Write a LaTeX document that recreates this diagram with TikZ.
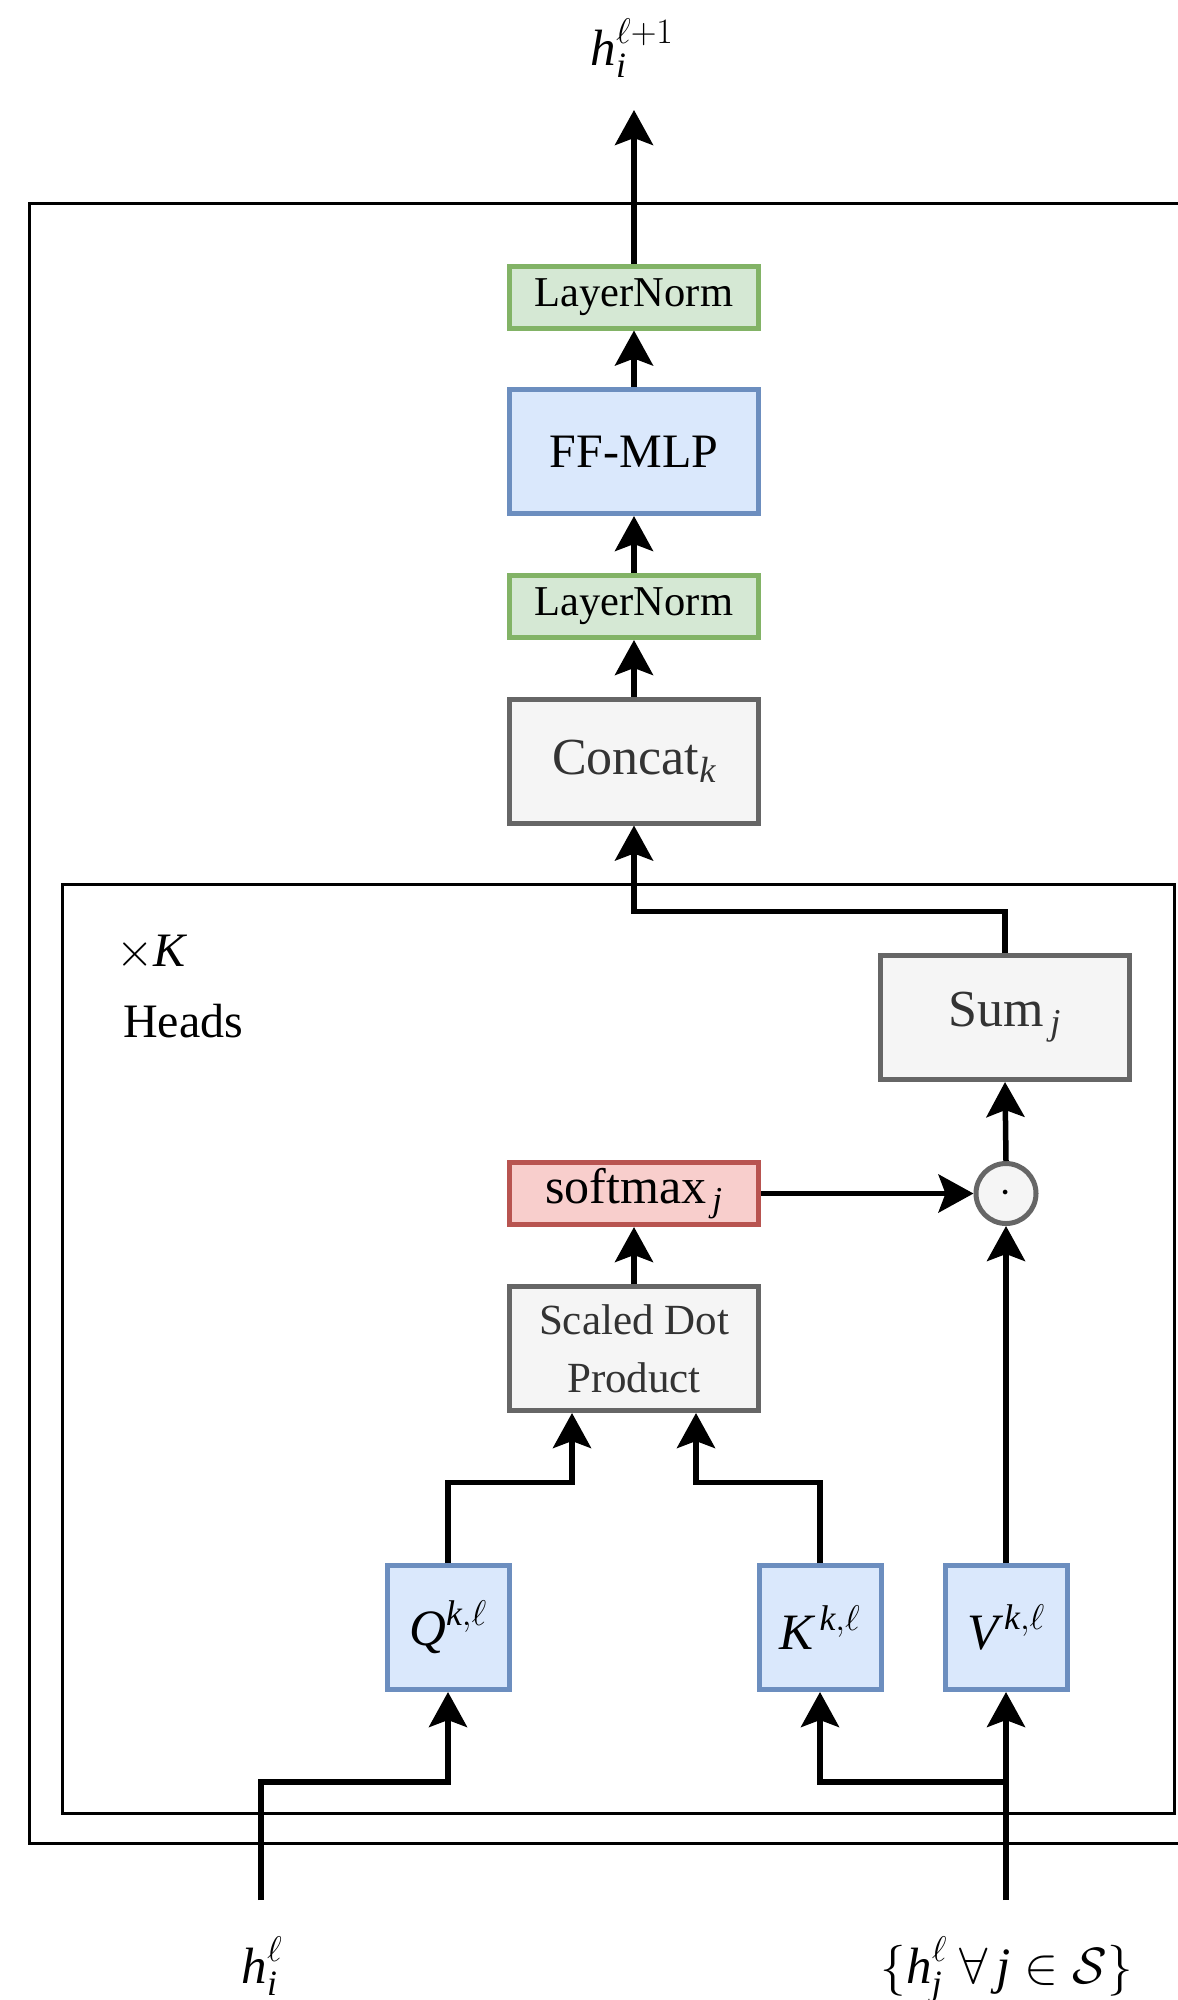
\RequirePackage{fix-cm}
\documentclass[tikz,border=0pt]{standalone}
\usepackage{amsmath}
\usepackage{fontspec}
\setmainfont{Liberation Serif}
\usetikzlibrary{arrows.meta}
\definecolor{gfill}{HTML}{D5E8D4}\definecolor{gdraw}{HTML}{82B366}
\definecolor{bfill}{HTML}{DAE8FC}\definecolor{bdraw}{HTML}{6C8EBF}
\definecolor{kfill}{HTML}{F5F5F5}\definecolor{kdraw}{HTML}{666666}\definecolor{ktext}{HTML}{333333}
\definecolor{rfill}{HTML}{F8CECC}\definecolor{rdraw}{HTML}{B85450}
\newcommand{\ti}[1]{\textit{#1}}
\begin{document}
\begin{tikzpicture}[x=1pt,y=-1pt,
  box/.style={line width=5pt, inner sep=0pt, minimum width=249pt, align=center},
  lnbox/.style={box, draw=gdraw, fill=gfill, minimum height=62pt, font=\fontsize{42.5}{50}\selectfont},
  bluebox/.style={box, draw=bdraw, fill=bfill, minimum height=124pt, font=\fontsize{48}{56}\selectfont},
  graybox/.style={box, draw=kdraw, fill=kfill, text=ktext, minimum height=124pt, font=\fontsize{52}{60}\selectfont},
  redbox/.style={box, draw=rdraw, fill=rfill, minimum height=62pt, font=\fontsize{50}{58}\selectfont},
  qbox/.style={box, draw=bdraw, fill=bfill, minimum width=122pt, minimum height=124pt, font=\fontsize{51}{58}\selectfont},
  conn/.style={line width=5.5pt, -{Stealth[length=35pt, width=38pt, inset=7pt]}},
  frame/.style={line width=3pt, draw=black},
  lbl/.style={inner sep=0pt, font=\fontsize{51}{58}\selectfont}
]
\useasboundingbox (0,0) rectangle (1178,2000);
\clip (0,0) rectangle (1178,2000);
% frames
\draw[frame] (29,203) rectangle (1210,1843);
\draw[frame] (62,884) rectangle (1174,1813);
% nodes
\node[lnbox] (ln1) at (634,297) {LayerNorm};
\node[bluebox] (ff) at (634,451.5) {FF-MLP};
\node[lnbox] (ln2) at (634,606.5) {LayerNorm};
\node[graybox] (cc) at (634,761) {Concat$_{\ti{k}}$};
\node[graybox] (sum) at (1005,1017.5) {Sum$_{\,\ti{j}}$};
\node[redbox] (sm) at (634,1193.5) {softmax$_{\,\ti{j}}$};
\node[circle, line width=5pt, draw=kdraw, fill=kfill, text=black, minimum size=60pt, inner sep=0pt, font=\fontsize{44}{50}\selectfont] (dot) at (1006,1193.5) {$\cdot$};
\node[graybox, font=\fontsize{43}{58}\selectfont] (sdp) at (634,1348.5) {Scaled Dot\\Product};
\node[qbox] (q) at (448,1627.5) {$\ti{Q}^{\ti{k},\ell}$};
\node[qbox] (k) at (820,1627.5) {$\ti{K}^{\,\ti{k},\ell}$};
\node[qbox] (v) at (1006,1627.5) {$\ti{V}^{\,\ti{k},\ell}$};
% text labels
\node[lbl, anchor=base] (hout) at (632,65) {$\ti{h}_{\ti{i}}^{\ell+1}$};
\node[lbl, anchor=base] (hin) at (262,1983) {$\ti{h}_{\ti{i}}^{\ell}$};
\node[lbl, anchor=base] (sinl) at (1007,1983) {$\{\ti{h}_{\ti{j}}^{\ell}\ \forall\,\ti{j}\in\mathcal{S}\}$};
\node[inner sep=0pt, anchor=base west, font=\fontsize{48}{56}\selectfont] (xk) at (116,966) {$\times\ti{K}$};
\node[inner sep=0pt, anchor=base west, font=\fontsize{48}{56}\selectfont] (heads) at (123,1037) {Heads};
% coordinates
\coordinate (topend) at (634,110);
\coordinate (hstart) at (261,1900);
\coordinate (sstart) at (1006,1900);
% connectors
\draw[conn] (ln1.north) -- (topend);
\draw[conn] (ff.north) -- (ln1.south);
\draw[conn] (ln2.north) -- (ff.south);
\draw[conn] (cc.north) -- (ln2.south);
\draw[conn] (sum.north) -- ++(0,-41.5) -| (cc.south);
\draw[conn] (dot.north) -- (sum.south);
\draw[conn] (sm.east) -- (dot.west);
\draw[conn] (sdp.north) -- (sm.south);
\draw[conn] (q.north) -- ++(0,-80.5) -| ([xshift=-62pt]sdp.south);
\draw[conn] (k.north) -- ++(0,-80.5) -| ([xshift=62pt]sdp.south);
\draw[conn] (v.north) -- (dot.south);
\draw[conn] (hstart) -- ++(0,-118) -| (q.south);
\draw[conn] (sstart) -- (v.south);
\draw[conn] ([yshift=118pt]sstart) -| (k.south);
\end{tikzpicture}
\end{document}
